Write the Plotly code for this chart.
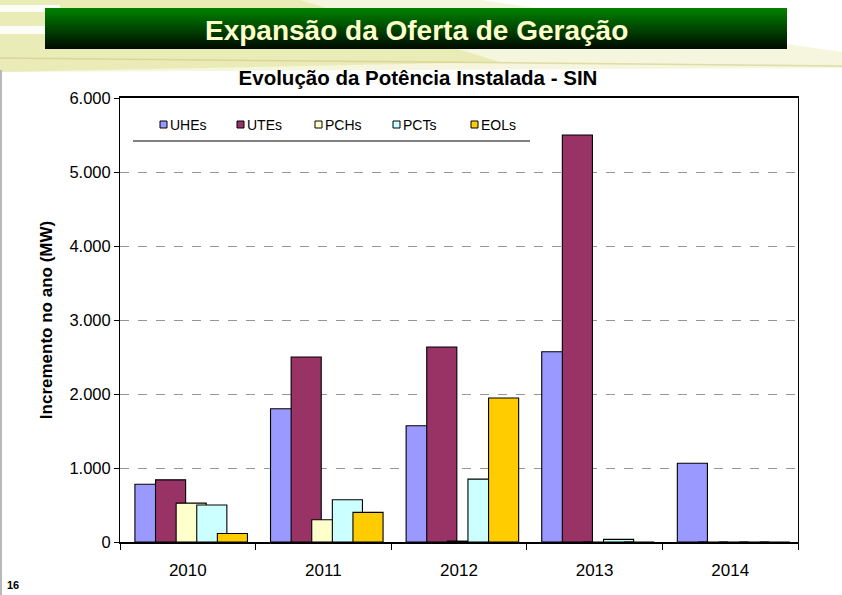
"""Evolução da Potência Instalada - SIN: grouped, overlapping bar chart."""

import plotly.graph_objects as go

YEARS = ["2010", "2011", "2012", "2013", "2014"]
UHES = [780, 1800, 1570, 2570, 1065]
UTES = [840, 2500, 2635, 5500, 0]
PCHS = [525, 300, 12, 0, 0]
PCTS = [500, 570, 850, 35, 0]
EOLS = [115, 400, 1945, 0, 0]

SERIES = [
    ("UHEs", UHES, "#9999FF"),
    ("UTEs", UTES, "#993366"),
    ("PCHs", PCHS, "#FFFFCC"),
    ("PCTs", PCTS, "#CCFFFF"),
    ("EOLs", EOLS, "#FFCC00"),
]

Y_TICKS = [0, 1000, 2000, 3000, 4000, 5000, 6000]
Y_TICK_TEXT = ["0", "1.000", "2.000", "3.000", "4.000", "5.000", "6.000"]

FONT = "Liberation Sans, Arial, sans-serif"

# plot area in pixels, used to place the slide decorations
PLOT_L, PLOT_R, PLOT_T, PLOT_B = 120, 798, 98, 542


def px_x(px):
    return (px - PLOT_L) / (PLOT_R - PLOT_L)


def px_y(py):
    return (PLOT_B - py) / (PLOT_B - PLOT_T)


def _paper_shape(**kw):
    return dict(xref="paper", yref="paper", **kw)


def _add_bars(fig):
    bar_width = 0.222
    step = 0.152
    first_offset = -0.39
    for i, (name, values, color) in enumerate(SERIES):
        fig.add_bar(
            x=YEARS,
            y=values,
            name=name,
            width=bar_width,
            offset=first_offset + i * step,
            marker={"color": color, "line": {"color": "black", "width": 1.1}},
            showlegend=False,
        )


def _legend_shapes_and_text(fig):
    """Excel-like legend: small square right next to the label."""
    shapes = []
    square_left = [160, 237, 315, 393, 471]
    for (name, _, color), left in zip(SERIES, square_left):
        shapes.append(
            _paper_shape(
                type="rect",
                x0=px_x(left),
                x1=px_x(left + 7),
                y0=px_y(128),
                y1=px_y(121),
                fillcolor=color,
                line={"color": "black", "width": 1},
            )
        )
        fig.add_annotation(
            xref="paper",
            yref="paper",
            x=px_x(left + 8),
            y=px_y(124.5),
            xanchor="left",
            yanchor="middle",
            text=name,
            showarrow=False,
            font={"family": FONT, "size": 14, "color": "black"},
        )
    shapes.append(
        _paper_shape(
            type="line",
            x0=px_x(133),
            x1=px_x(530),
            y0=px_y(141),
            y1=px_y(141),
            line={"color": "black", "width": 1},
        )
    )
    return shapes


def _slide_shapes():
    shapes = []
    # light green band at the top of the slide
    shapes.append(
        _paper_shape(
            type="path",
            path=(
                f"M {px_x(0)},{px_y(0)} L {px_x(480)},{px_y(0)} "
                f"L {px_x(842)},{px_y(52)} L {px_x(842)},{px_y(68)} "
                f"L {px_x(0)},{px_y(72)} Z"
            ),
            fillcolor="rgba(232,234,180,0.45)",
            line={"width": 0},
            layer="below",
        )
    )
    shapes.append(
        _paper_shape(
            type="path",
            path=(
                f"M {px_x(0)},{px_y(0)} L {px_x(300)},{px_y(0)} "
                f"L {px_x(500)},{px_y(62)} L {px_x(0)},{px_y(72)} Z"
            ),
            fillcolor="rgba(226,230,160,0.6)",
            line={"width": 0},
            layer="below",
        )
    )
    for y0, y1 in [(5, 12), (26, 34)]:
        shapes.append(
            _paper_shape(
                type="rect",
                x0=px_x(0),
                x1=px_x(60),
                y0=px_y(y1),
                y1=px_y(y0),
                fillcolor="rgba(255,255,255,0.9)",
                line={"width": 0},
                layer="below",
            )
        )
    shapes.append(
        _paper_shape(
            type="line",
            x0=px_x(0),
            x1=px_x(842),
            y0=px_y(58),
            y1=px_y(66),
            line={"color": "rgba(200,200,120,0.55)", "width": 1.5},
            layer="below",
        )
    )
    # header box with a vertical green gradient, painted top-down so that
    # each band covers the rest of the box below it
    top, bottom = 8, 49
    steps = 24
    c_top = (0, 130, 0)
    c_bot = (0, 12, 0)
    for k in range(steps):
        t = k / (steps - 1)
        col = tuple(int(a + (b - a) * t) for a, b in zip(c_top, c_bot))
        y0 = top + (bottom - top) * k / steps
        shapes.append(
            _paper_shape(
                type="rect",
                x0=px_x(45),
                x1=px_x(787),
                y0=px_y(bottom),
                y1=px_y(y0),
                fillcolor=f"rgb{col}",
                line={"width": 0},
            )
        )
    # grey slide edge on the left
    shapes.append(
        _paper_shape(
            type="line",
            x0=px_x(1),
            x1=px_x(1),
            y0=px_y(70),
            y1=px_y(595),
            line={"color": "#B8B8B8", "width": 2},
        )
    )
    return shapes


def _add_texts(fig):
    fig.add_annotation(
        xref="paper",
        yref="paper",
        x=px_x(416),
        y=px_y(30),
        xanchor="center",
        yanchor="middle",
        text="<b>Expansão da Oferta de Geração</b>",
        showarrow=False,
        font={"family": FONT, "size": 28, "color": "#FFFFCC"},
    )
    fig.add_annotation(
        xref="paper",
        yref="paper",
        x=px_x(5),
        y=px_y(585),
        xanchor="left",
        yanchor="middle",
        text="<b>16</b>",
        showarrow=False,
        font={"family": FONT, "size": 11, "color": "black"},
    )


def _add_layout(fig):
    fig.update_layout(
        width=842,
        height=595,
        margin={"l": PLOT_L, "r": 842 - PLOT_R, "t": PLOT_T, "b": 595 - PLOT_B},
        paper_bgcolor="white",
        plot_bgcolor="white",
        barmode="overlay",
        showlegend=False,
        font={"family": FONT, "color": "black"},
        title={
            "text": "<b>Evolução da Potência Instalada - SIN</b>",
            "x": px_x(418),
            "xref": "paper",
            "xanchor": "center",
            "y": 1 - 78 / 595,
            "yanchor": "middle",
            "font": {"size": 20.5, "family": FONT, "color": "black"},
        },
    )
    fig.update_xaxes(
        type="category",
        range=[-0.5, 4.5],
        showline=True,
        linecolor="black",
        linewidth=2,
        mirror=True,
        ticks="outside",
        tickson="boundaries",
        ticklen=6,
        tickcolor="black",
        tickfont={"size": 17},
        ticklabelstandoff=12,
        showgrid=False,
    )
    fig.update_yaxes(
        range=[0, 6000],
        tickvals=Y_TICKS,
        ticktext=Y_TICK_TEXT,
        showline=True,
        linecolor="black",
        linewidth=1,
        mirror=True,
        ticks="outside",
        ticklen=5,
        tickcolor="black",
        tickfont={"size": 16.5},
        showgrid=True,
        gridcolor="#969696",
        griddash="dash",
        gridwidth=1,
        zeroline=False,
        title={
            "text": "<b>Incremento no ano (MW)</b>",
            "font": {"size": 17},
            "standoff": 12,
        },
    )


def plot_potencia():
    fig = go.Figure()
    _add_bars(fig)
    _add_layout(fig)
    shapes = _slide_shapes()
    shapes += _legend_shapes_and_text(fig)
    fig.update_layout(shapes=shapes)
    _add_texts(fig)
    return fig


fig = plot_potencia()
fig.write_html(
    "out.html",
    config={"displayModeBar": False},
    post_script="document.body.style.margin = '0';",
)
